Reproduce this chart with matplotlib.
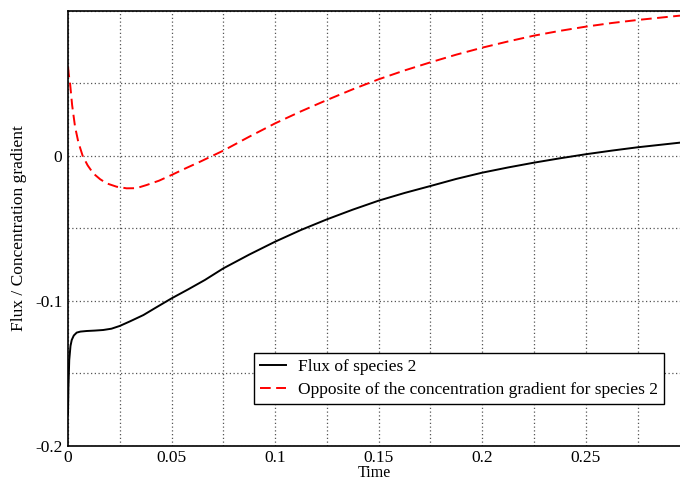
import matplotlib
matplotlib.use("Agg")
import matplotlib.pyplot as plt
from matplotlib.ticker import MultipleLocator

plt.rcParams['font.family'] = ['Liberation Serif', 'DejaVu Serif']

# Data
time_flux = [0.0, 0.0002, 0.0006, 0.0012, 0.0018, 0.0028, 0.0042, 0.006, 0.009, 0.013, 0.017,
             0.021, 0.025, 0.030, 0.0364, 0.0425, 0.05, 0.058, 0.0661, 0.075, 0.0875, 0.1,
             0.1125, 0.125, 0.1375, 0.15, 0.1625, 0.175, 0.1875, 0.2, 0.2125, 0.225, 0.2375,
             0.25, 0.2625, 0.275, 0.2955]
flux = [-0.178, -0.160, -0.1407, -0.1310, -0.1269, -0.1238, -0.1218, -0.1211, -0.1207, -0.1204,
        -0.1200, -0.1191, -0.1172, -0.1140, -0.1097, -0.1045, -0.0982, -0.0920, -0.0855,
        -0.0775, -0.0680, -0.0591, -0.0510, -0.0437, -0.0370, -0.0308, -0.0255, -0.0207,
        -0.0158, -0.0115, -0.0079, -0.0046, -0.0016, 0.0012, 0.0037, 0.0060, 0.0092]

time_grad = [0.0, 0.0004, 0.001, 0.002, 0.0034, 0.005, 0.0071, 0.0095, 0.0122, 0.0155,
             0.0187, 0.0235, 0.0283, 0.033, 0.038, 0.044, 0.05, 0.0565, 0.0637, 0.075,
             0.0875, 0.1, 0.1125, 0.125, 0.1375, 0.15, 0.1625, 0.175, 0.1875, 0.2, 0.2125,
             0.225, 0.2375, 0.25, 0.2625, 0.275, 0.2955]
grad = [0.0616, 0.056, 0.050, 0.035, 0.0202, 0.0095, 0.0000, -0.0065, -0.0120, -0.0160,
        -0.0189, -0.0212, -0.0223, -0.0222, -0.0200, -0.0170, -0.0131, -0.0087, -0.0040,
        0.0037, 0.0133, 0.0225, 0.0308, 0.0386, 0.0460, 0.0529, 0.0590, 0.0646, 0.0699,
        0.0747, 0.0790, 0.0830, 0.0863, 0.0892, 0.0917, 0.0938, 0.0968]

fig = plt.figure(figsize=(6.8, 4.82), dpi=100)
ax = fig.add_axes([0.1, 0.0747, 0.9, 0.9025])

ax.plot(time_flux, flux, color='black', lw=1.4, label='Flux of species 2')
ax.plot(time_grad, grad, color='red', lw=1.4, ls=(0, (5.5, 2.8)),
        label='Opposite of the concentration gradient for species 2')

ax.set_xlim(0, 0.2955)
ax.set_ylim(-0.2, 0.1)
ax.xaxis.set_minor_locator(MultipleLocator(0.025))
ax.yaxis.set_minor_locator(MultipleLocator(0.05))
ax.set_xticks([0, 0.05, 0.1, 0.15, 0.2, 0.25])
ax.set_xticklabels(['0', '0.05', '0.1', '0.15', '0.2', '0.25'])
ax.set_yticks([-0.2, -0.1, 0])
ax.set_yticklabels(['-0.2', '-0.1', '0'])
ax.tick_params(which='both', length=0, labelsize=12.5)
ax.tick_params(axis='x', pad=3)
ax.tick_params(axis='y', pad=4)
ax.grid(which='both', color='#555555', ls=(0, (1, 2)), lw=0.9)
ax.spines['right'].set_visible(False)
for s in ['left', 'bottom', 'top']:
    ax.spines[s].set_linewidth(1.2)

ax.set_xlabel('Time', fontsize=11.5, labelpad=-0.5)
ax.set_ylabel('Flux / Concentration gradient', fontsize=12.5, labelpad=6)

leg = ax.legend(loc='upper left', bbox_to_anchor=(0.304, 0.214), borderaxespad=0,
                fontsize=12.5, frameon=True, fancybox=False, framealpha=1,
                edgecolor='black', handlelength=1.5, borderpad=0.35, labelspacing=0.4,
                handletextpad=0.7)
leg.get_frame().set_linewidth(1.0)

fig.savefig('out.png', dpi=100)
